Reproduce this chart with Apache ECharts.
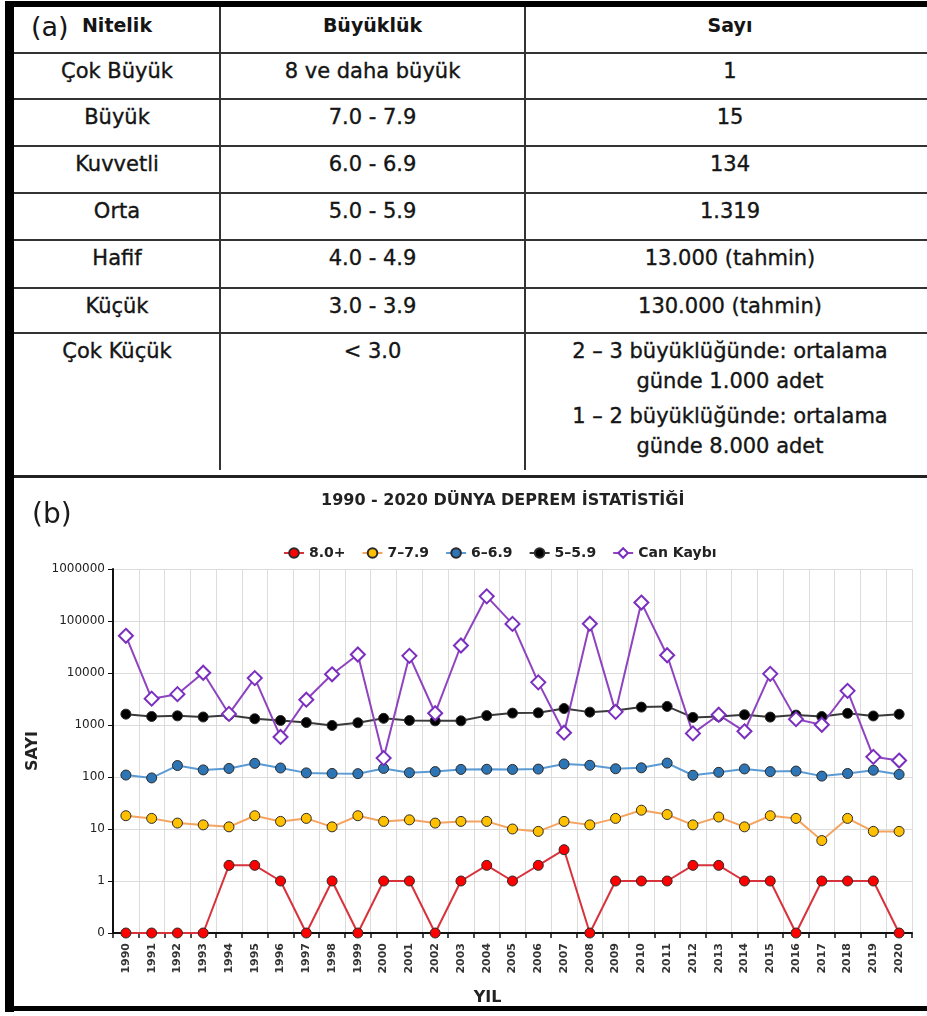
<!DOCTYPE html>
<html><head><meta charset="utf-8">
<script src="https://cdn.jsdelivr.net/npm/echarts@6/dist/echarts.min.js"></script>
<style>
html,body{margin:0;padding:0;width:927px;height:1016px;overflow:hidden;background:#fff;font-family:"DejaVu Sans",sans-serif;color:#151515;}
#chart{position:absolute;left:0;top:0;width:927px;height:1016px;}
#tbl{position:absolute;left:0;top:0;width:927px;height:478px;background:#fff;overflow:hidden;}
.ln{position:absolute;background:#333;}
.cell{position:absolute;text-align:center;white-space:nowrap;line-height:30px;}
.hd{font-weight:bold;font-size:19px;}
.bd{font-size:21px;-webkit-text-stroke:0.35px #151515;}
</style>
</head><body>
<div id="chart"></div>
<div id="tbl"></div>
<div class="ln" style="left:5px;top:1px;width:9px;height:1011px;background:#000"></div>
<div class="ln" style="left:5px;top:1px;width:922px;height:6px;background:#000"></div>
<div class="ln" style="left:5px;top:1006px;width:922px;height:5px;background:#000"></div>
<script>
// ---- Table data ----
const tableHeaders = ['Nitelik', 'Büyüklük', 'Sayı'];
const nitelik = ['Çok Büyük', 'Büyük', 'Kuvvetli', 'Orta', 'Hafif', 'Küçük', 'Çok Küçük'];
const buyukluk = ['8 ve daha büyük', '7.0 - 7.9', '6.0 - 6.9', '5.0 - 5.9', '4.0 - 4.9', '3.0 - 3.9', '< 3.0'];
const sayi = ['1', '15', '134', '1.319', '13.000 (tahmin)', '130.000 (tahmin)',
  ['2 – 3 büyüklüğünde: ortalama', 'günde 1.000 adet', '1 – 2 büyüklüğünde: ortalama', 'günde 8.000 adet']];

// ---- Chart data ----
const years = ['1990','1991','1992','1993','1994','1995','1996','1997','1998','1999','2000','2001','2002','2003','2004','2005','2006','2007','2008','2009','2010','2011','2012','2013','2014','2015','2016','2017','2018','2019','2020'];
const mag8 = [0,0,0,0,2,2,1,0,1,0,1,1,0,1,2,1,2,4,0,1,1,1,2,2,1,1,0,1,1,1,0];
const mag7 = [18,16,13,12,11,18,14,16,11,18,14,15,13,14,14,10,9,14,12,16,23,19,12,17,11,18,16,6,16,9,9];
const mag6 = [109,96,166,137,146,183,149,120,117,116,146,121,127,140,141,140,142,178,168,144,150,185,108,123,143,127,130,104,117,135,112];
const mag5 = [1617,1457,1498,1426,1542,1318,1222,1113,979,1104,1344,1224,1201,1203,1515,1693,1712,2074,1768,1896,2209,2276,1401,1453,1574,1419,1550,1455,1674,1492,1612];
const canKaybi = [51916,3210,3920,10096,1634,7980,589,3069,9430,22662,231,21357,1685,33819,298101,87992,6605,712,88708,1790,226050,21942,689,1572,756,9624,1297,1012,4535,244,207];
const yTickLabels = ['0','1','10','100','1000','10000','100000','1000000'];

// ---- Table drawing ----
(function(){
  const t = document.getElementById('tbl');
  const rowTops = [7, 53, 99, 146, 193, 240, 288, 333];
  const colX = [14, 220, 525, 935];
  function add(html, cls, style){ const d=document.createElement('div'); d.className=cls; d.style.cssText=style; d.innerHTML=html; t.appendChild(d); }
  for (let i=1;i<rowTops.length;i++) add('', 'ln', `left:14px;top:${rowTops[i]-1}px;width:913px;height:2px;`);
  add('', 'ln', 'left:14px;top:475px;width:913px;height:3px;background:#222');
  add('', 'ln', `left:${colX[1]-1}px;top:7px;width:2px;height:463px;`);
  add('', 'ln', `left:${colX[2]-1}px;top:7px;width:2px;height:463px;`);
  tableHeaders.forEach((h,c)=>add(h,'cell hd',`left:${colX[c]}px;width:${colX[c+1]-colX[c]}px;top:${rowTops[0]+3}px;`));
  add('(a)','cell',`left:31px;top:10px;font-size:27px;line-height:34px;`);
  nitelik.forEach((n,r)=>{
    const top = rowTops[r+1]+3;
    add(n,'cell bd',`left:${colX[0]}px;width:${colX[1]-colX[0]}px;top:${top}px;`);
    add(buyukluk[r],'cell bd',`left:${colX[1]}px;width:${colX[2]-colX[1]}px;top:${top}px;`);
    const s = sayi[r];
    if (Array.isArray(s)) {
      const html = s.map((l,i)=>`<div style="${i===2?'margin-top:5px;':''}">${l}</div>`).join('');
      add(html,'cell bd',`left:${colX[2]}px;width:${colX[3]-colX[2]}px;top:${top}px;`);
    } else {
      add(s,'cell bd',`left:${colX[2]}px;width:${colX[3]-colX[2]}px;top:${top}px;`);
    }
  });
})();

// ---- Chart ----
const ZERO_FLOOR = 0.1; // log axis cannot show 0: zeros sit on the "0" baseline
const toLog = a => a.map(v => v === 0 ? ZERO_FLOOR : v);
const FONT = 'DejaVu Sans';
const chart = echarts.init(document.getElementById('chart'), null, {renderer:'canvas'});
function circleSeries(name, data, fill, line){
  return {name, type:'line', data: toLog(data), symbol:'circle', symbolSize:10, showSymbol:true,
    itemStyle:{color:fill, borderColor:'#2a2a2a', borderWidth:1},
    lineStyle:{color:line, width:2}, emphasis:{disabled:true}};
}
const option = {
  animation:false,
  textStyle:{fontFamily:FONT},
  title:{text:'1990 - 2020 DÜNYA DEPREM İSTATİSTİĞİ', left:316, top:488,
    textStyle:{fontFamily:FONT, fontSize:16, fontWeight:'bold', color:'#222'}},
  graphic:[{type:'text', left:32, top:502, style:{text:'(b)', fontFamily:FONT, fontSize:28, fill:'#1a1a1a'}}],
  legend:{left:278, top:541, itemWidth:20, itemHeight:12, itemGap:16,
    textStyle:{fontFamily:FONT, fontSize:14, fontWeight:'bold', color:'#222'},
    data:['8.0+','7–7.9','6–6.9','5–5.9','Can Kaybı']},
  grid:{left:113, right:15, top:569, bottom:83},
  xAxis:{type:'category', data:years, boundaryGap:true,
    axisLine:{lineStyle:{color:'#111', width:2}},
    axisTick:{show:true, length:5, lineStyle:{color:'#111', width:1.5}},
    axisLabel:{rotate:90, interval:0, fontFamily:FONT, fontSize:11, fontWeight:'bold', color:'#333', margin:10},
    splitLine:{show:true, lineStyle:{color:'#dcdcdc', width:1}},
    name:'YIL', nameLocation:'middle', nameGap:57,
    nameTextStyle:{fontFamily:FONT, fontSize:16, fontWeight:'bold', color:'#222', padding:[0,50,0,0]}},
  yAxis:{type:'log', logBase:10, min:0.1, max:1000000,
    axisLine:{show:true, lineStyle:{color:'#111', width:2}},
    axisTick:{show:true, length:5, lineStyle:{color:'#111'}},
    axisLabel:{fontFamily:FONT, fontSize:12, color:'#222', margin:8,
      formatter:v => yTickLabels[Math.round(Math.log10(v)) + 1]},
    splitLine:{show:true, lineStyle:{color:'#dcdcdc', width:1}},
    name:'SAYI', nameLocation:'middle', nameGap:66, nameRotate:90,
    nameTextStyle:{fontFamily:FONT, fontSize:16, fontWeight:'bold', color:'#222'}},
  series:[
    circleSeries('8.0+', mag8, '#FF0000', '#D8323C'),
    circleSeries('7–7.9', mag7, '#FFC000', '#F4A460'),
    circleSeries('6–6.9', mag6, '#2E75B6', '#5B9BD5'),
    circleSeries('5–5.9', mag5, '#000000', '#3a3a3a'),
    {name:'Can Kaybı', type:'line', data:toLog(canKaybi), symbol:'diamond', symbolSize:14,
      itemStyle:{color:'#ffffff', borderColor:'#7B2FBE', borderWidth:2},
      lineStyle:{color:'#8E44C0', width:2}, emphasis:{disabled:true}}
  ]
};
chart.setOption(option);
</script>
</body></html>
